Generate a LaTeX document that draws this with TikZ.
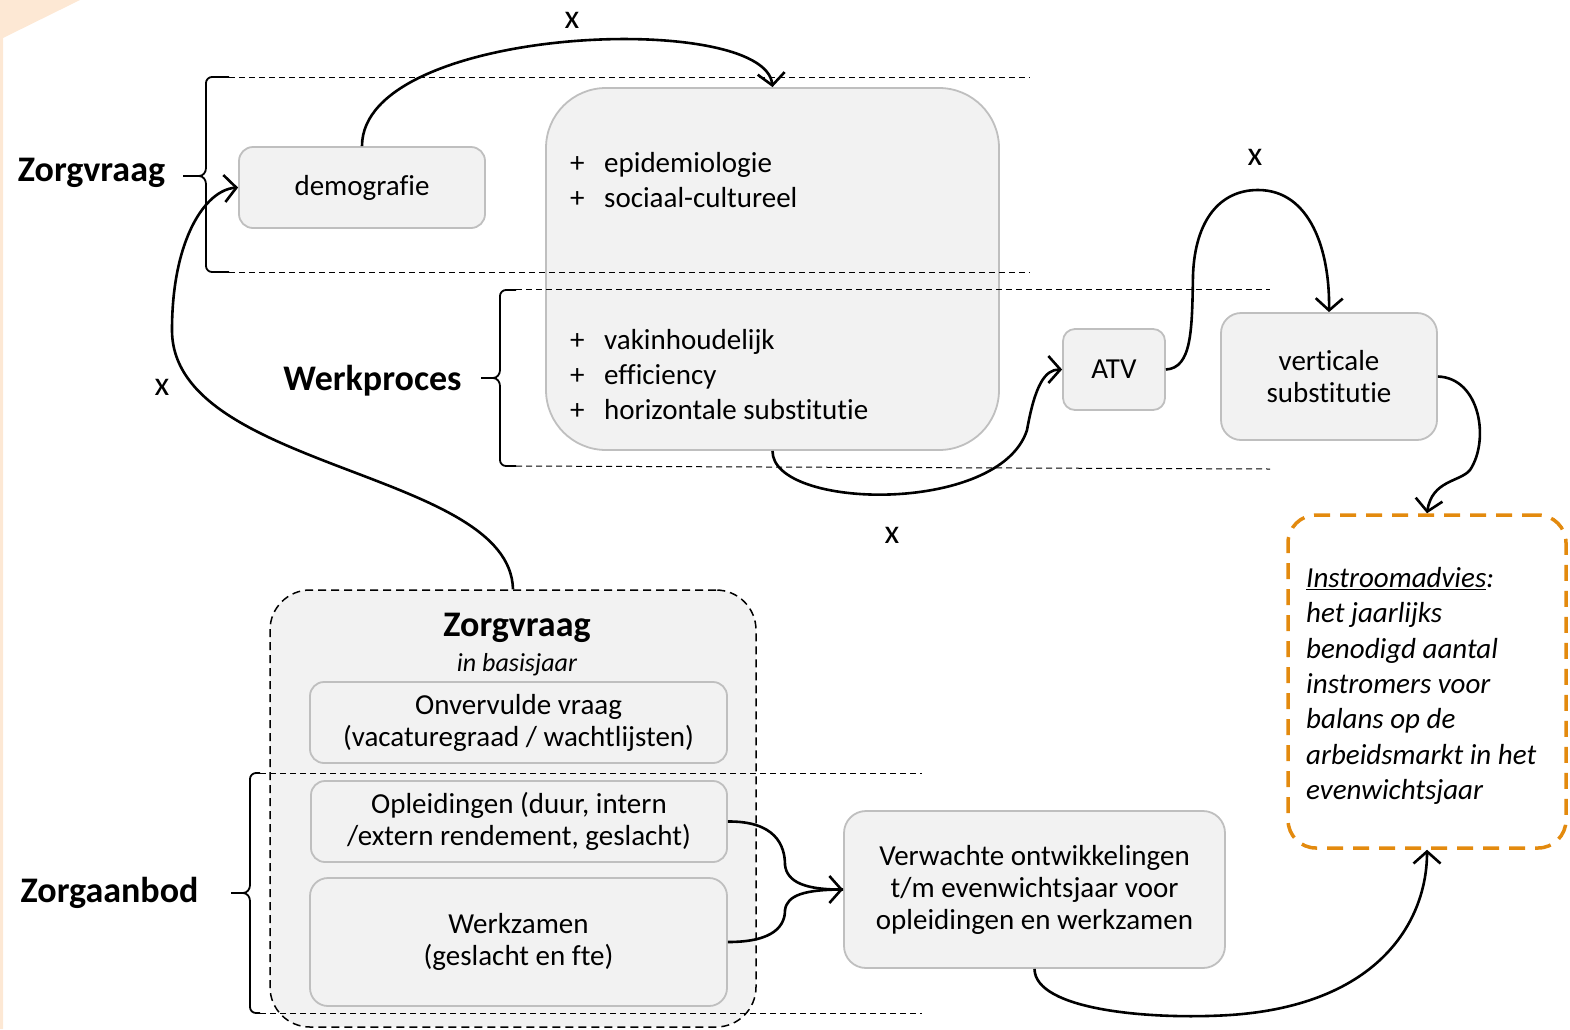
\documentclass[tikz,border=0pt]{standalone}
\usepackage{fontspec}
\setmainfont{Carlito}[Ligatures={NoCommon}]
\usetikzlibrary{arrows.meta}
\definecolor{boxfill}{HTML}{F2F2F2}
\definecolor{boxline}{HTML}{BFBFBF}
\definecolor{orng}{HTML}{E38A0E}
\definecolor{peach}{HTML}{FDE8D4}
\begin{document}
\begin{tikzpicture}[x=1pt,y=-1pt,
  gbox/.style={draw=boxline, fill=boxfill, line width=1.8pt, inner sep=0pt, align=center, font=\fontsize{29}{32}\selectfont},
  sepline/.style={dash pattern=on 6pt off 4pt, line width=1pt},
  conn/.style={line width=2.6pt, -{Straight Barb[length=12pt,width=27pt]}},
  plainconn/.style={line width=2.6pt},
  bracepath/.style={line width=1.8pt},
  bigl/.style={font=\fontsize{36}{40}\selectfont\bfseries},
  txt/.style={font=\fontsize{29}{35}\selectfont, inner sep=0pt},
  xlab/.style={font=\fontsize{34}{36}\selectfont, inner sep=0pt},
]
\useasboundingbox (0,0) rectangle (1570,1029);
\fill[peach] (0,0) -- (80,0) -- (3,38) -- (3,1029) -- (0,1029) -- cycle;

% top boxes
\node[gbox, rounded corners=14pt, minimum width=246pt, minimum height=81pt] (demo) at (362,187.5) {\raisebox{-2pt}{demografie}};
\node[gbox, rounded corners=60pt, minimum width=453pt, minimum height=362pt] (big) at (772.5,269) {};
\node[txt, anchor=west] (p1) at (570,165) {\strut+};
\node[txt, anchor=west] (t1) at (604,165) {\strut epidemiologie};
\node[txt, anchor=west] (p2) at (570,200) {\strut+};
\node[txt, anchor=west] (t2) at (604,200) {\strut sociaal-cultureel};
\node[txt, anchor=west] (p3) at (570,342) {\strut+};
\node[txt, anchor=west] (t3) at (604,342) {\strut vakinhoudelijk};
\node[txt, anchor=west] (p4) at (570,377) {\strut+};
\node[txt, anchor=west] (t4) at (604,377) {\strut efficiency};
\node[txt, anchor=west] (p5) at (570,412) {\strut+};
\node[txt, anchor=west] (t5) at (604,412) {\strut horizontale substitutie};

\node[gbox, rounded corners=12pt, minimum width=102pt, minimum height=81pt] (atv) at (1114,369.5) {ATV};
\node[gbox, rounded corners=20pt, minimum width=216pt, minimum height=127pt] (vs) at (1329,376.5) {verticale\\substitutie};

% orange result box
\node[draw=orng, line width=3.5pt, dash pattern=on 16pt off 10pt, rounded corners=28pt, minimum width=278pt, minimum height=333pt, inner sep=0pt] (adv) at (1427,681.5) {};
\node[txt, anchor=west, align=left, font=\fontsize{29}{35.3}\selectfont\itshape] (advtxt) at (1306,686) {\underline{Instroomadvies}:\\het jaarlijks\\benodigd aantal\\instromers voor\\balans op de\\arbeidsmarkt in het\\evenwichtsjaar};

% bottom group
\node[draw=black, fill=boxfill, line width=1.5pt, dash pattern=on 8pt off 5pt, rounded corners=40pt, minimum width=486pt, minimum height=437pt, inner sep=0pt] (zv) at (513,808.5) {};
\node[bigl, inner sep=0pt] (zvtitle) at (517,628) {Zorgvraag};
\node[txt, font=\fontsize{26}{30}\selectfont\itshape] (zvsub) at (517,665) {in basisjaar};
\node[gbox, rounded corners=14pt, minimum width=417pt, minimum height=81pt] (onv) at (518.5,722.5) {Onvervulde vraag\\(vacaturegraad / wachtlijsten)};
\node[gbox, rounded corners=14pt, minimum width=416pt, minimum height=81pt] (opl) at (519,821.5) {Opleidingen (duur, intern\\/extern rendement, geslacht)};
\node[gbox, rounded corners=18pt, minimum width=417pt, minimum height=128pt] (wz) at (518.5,942) {Werkzamen\\(geslacht en fte)};
\node[gbox, rounded corners=22pt, minimum width=381pt, minimum height=157pt] (ver) at (1034.5,889.5) {Verwachte ontwikkelingen\\t/m evenwichtsjaar voor\\opleidingen en werkzamen};

% dashed separators
\draw[sepline] (229,77) -- (1030,77);
\draw[sepline] (229,272) -- (1030,272);
\draw[sepline] (516,289) -- (1270,289);
\draw[sepline] (516,466) -- (1270,469);
\draw[sepline] (260,773) -- (922,773);
\draw[sepline] (260,1013) -- (922,1013);

% braces
\draw[bracepath] (229,77) -- (212,77) to[out=180,in=90] (206,83) -- (206,168) to[out=-90,in=0] (199,176) to[out=0,in=90] (206,184) -- (206,266) to[out=-90,in=180] (212,272) -- (229,272);
\draw[bracepath] (183,176) -- (199,176);
\draw[bracepath] (516,290) -- (506,290) to[out=180,in=90] (500,296) -- (500,370) to[out=-90,in=0] (493,378) to[out=0,in=90] (500,386) -- (500,460) to[out=-90,in=180] (506,466) -- (516,466);
\draw[bracepath] (481,378) -- (493,378);
\draw[bracepath] (260,773) -- (256,773) to[out=180,in=90] (250,779) -- (250,885) to[out=-90,in=0] (243,893) to[out=0,in=90] (250,901) -- (250,1007) to[out=-90,in=180] (256,1013) -- (260,1013);
\draw[bracepath] (231,893) -- (243,893);

% labels
\node[bigl, inner sep=0pt] (lzv) at (91.5,173) {Zorgvraag};
\node[bigl, inner sep=0pt] (lwp) at (372.5,381) {Werkproces};
\node[bigl, inner sep=0pt] (lza) at (109.5,893) {Zorgaanbod};
\node[xlab] (x1) at (572,20) {x};
\node[xlab] (x2) at (1255,157) {x};
\node[xlab] (x3) at (162,387) {x};
\node[xlab] (x4) at (892,535) {x};

% connectors
\draw[conn] (demo.north) .. controls (362,25) and (765,10) .. (big.north);
\draw[conn] (zv.north) .. controls (510,470) and (172,470) .. (172,330) .. controls (172,240) and (205,190) .. (demo.west);
\draw[conn] (big.south) .. controls (772,510) and (1000,515) .. (1027,430) .. controls (1035,385) and (1045,369.5) .. (atv.west);
\draw[conn] (atv.east) .. controls (1192,368) and (1192,330) .. (1193,275) .. controls (1195,220) and (1220,190) .. (1258,190) .. controls (1310,190) and (1330,250) .. (vs.north);
\draw[conn] (vs.east) .. controls (1480,378) and (1490,440) .. (1470,470) .. controls (1460,482) and (1432,480) .. (adv.north);
\draw[conn] (opl.east) .. controls (775,821) and (785,845) .. (785,865) .. controls (787,882) and (805,889.5) .. (ver.west);
\draw[plainconn] (wz.east) .. controls (775,942) and (785,925) .. (785,910) .. controls (787,895) and (805,889.5) .. (ver.west);
\draw[conn] (ver.south) .. controls (1035,1010) and (1150,1020) .. (1230,1015) .. controls (1380,1005) and (1427,920) .. (adv.south);
\end{tikzpicture}
\end{document}
